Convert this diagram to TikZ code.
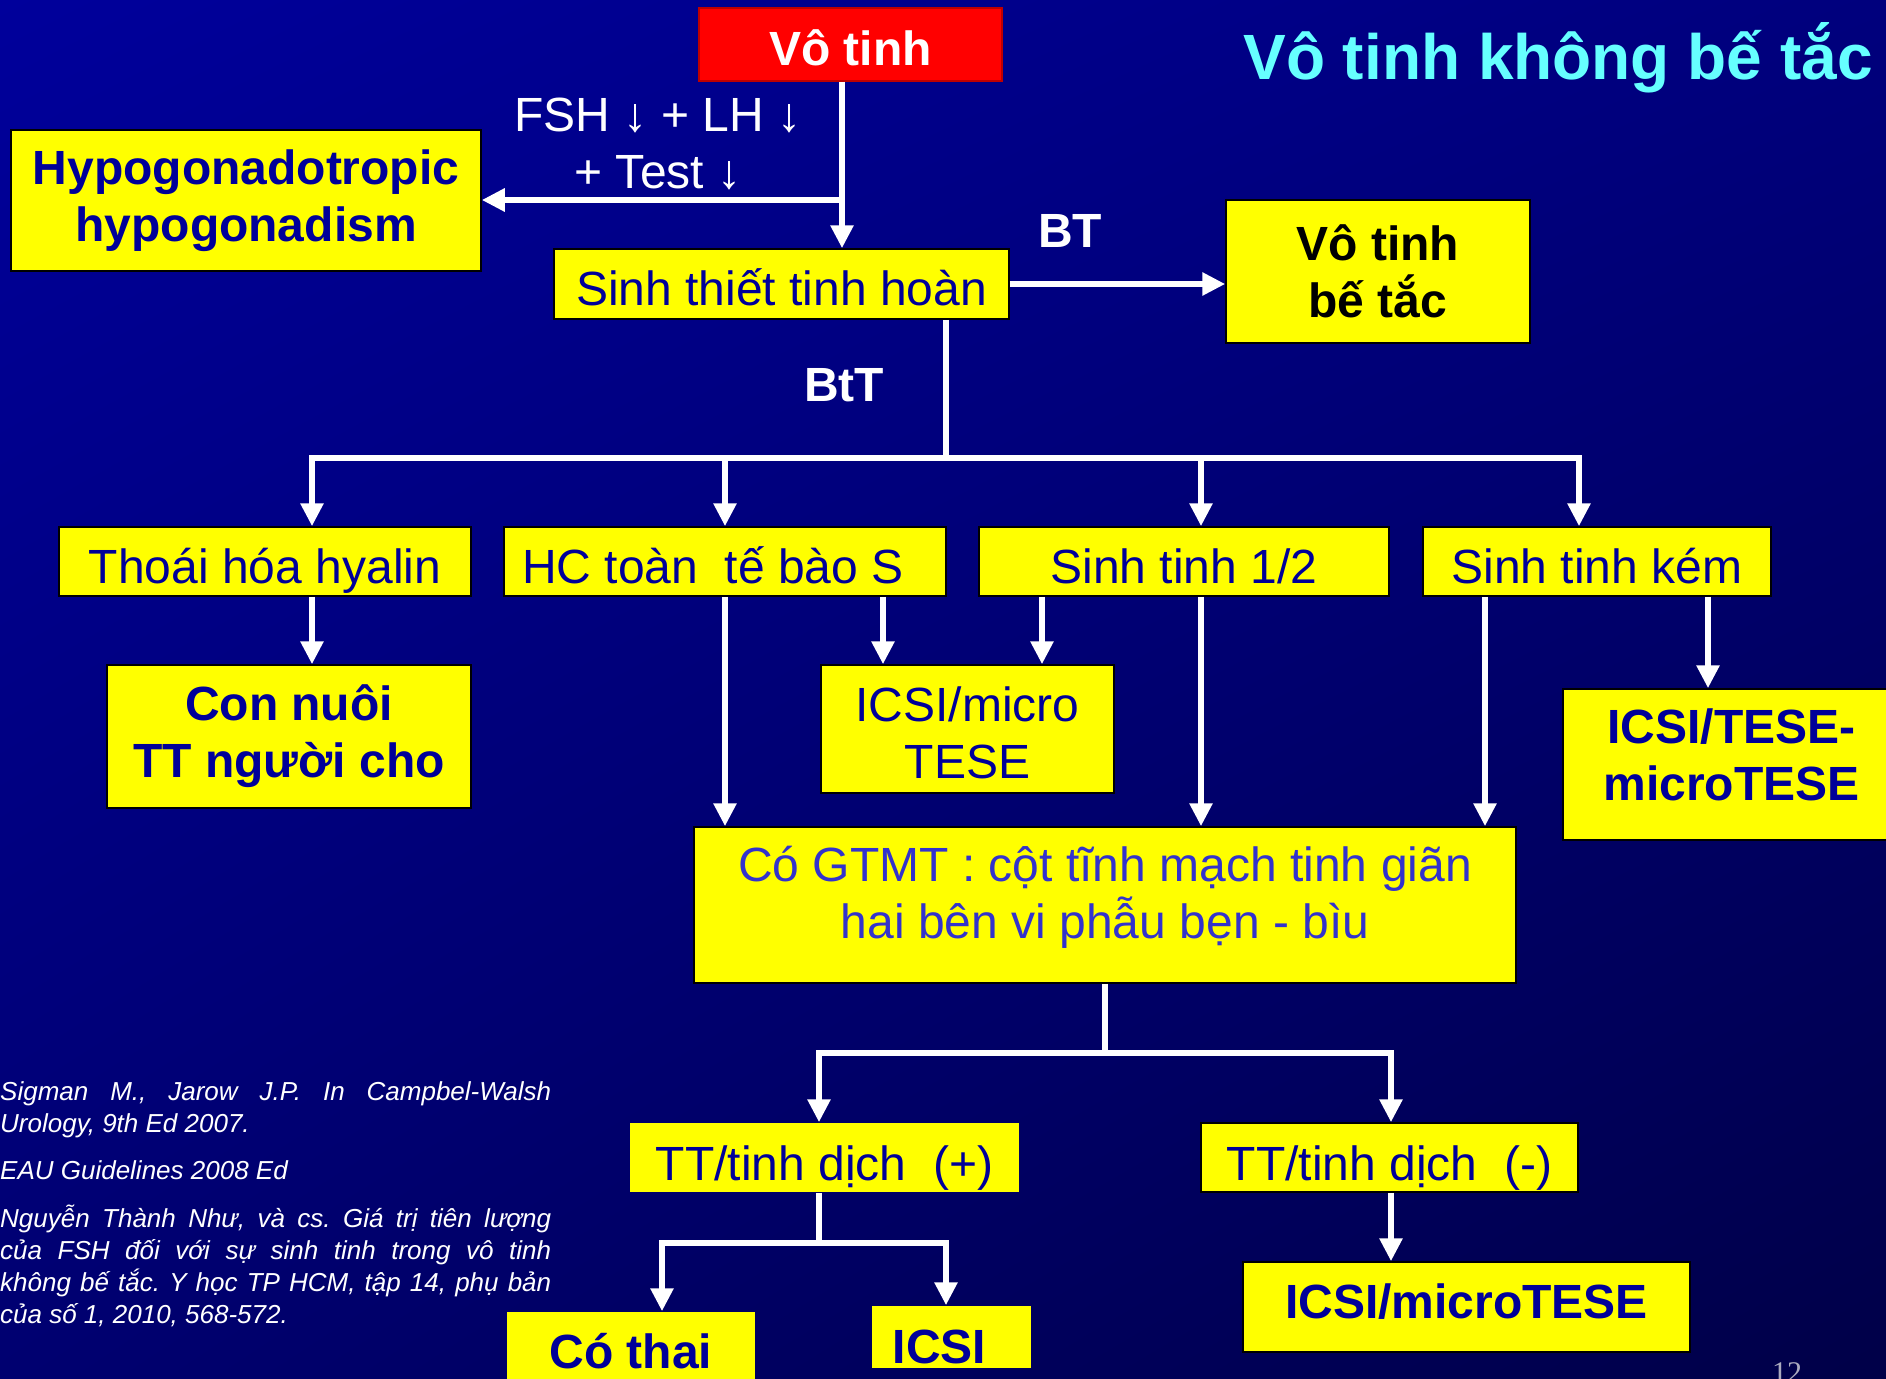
\documentclass[tikz,border=0pt]{standalone}
\usepackage{fontspec}
\setmainfont{Liberation Sans}
\newfontfamily\pagenumfont{Liberation Serif}
\usetikzlibrary{arrows.meta,shadings}
\definecolor{bgUL}{RGB}{0,0,155}
\definecolor{bgUR}{RGB}{0,0,125}
\definecolor{bgLL}{RGB}{0,0,112}
\definecolor{bgLR}{RGB}{0,0,72}
\definecolor{boxyellow}{RGB}{255,255,0}
\definecolor{boxtext}{RGB}{0,0,153}
\definecolor{gtmttext}{RGB}{51,51,204}
\definecolor{titlecyan}{RGB}{102,255,255}
\definecolor{pagegray}{RGB}{170,170,190}
\frenchspacing
\begin{document}
\begin{tikzpicture}[x=1pt,y=-1pt,
  wline/.style={draw=white, line width=6pt},
  arr/.style={wline, -{Triangle[length=23pt,width=22pt]}},
  box/.style={draw=black, line width=1.5pt, fill=boxyellow, inner sep=0pt, text=boxtext},
  rfont/.style={font=\fontsize{48}{57}\selectfont},
  bfont/.style={font=\fontsize{48}{57}\selectfont\bfseries},
  th/.style={text height=#1, text depth=0pt},
  lbl/.style={text=white, inner sep=0pt, font=\fontsize{48}{57}\selectfont\bfseries},
  refline/.style={text=white, inner sep=0pt, anchor=base west, font=\fontsize{26}{32}\selectfont\itshape},
]
\useasboundingbox (0,0) rectangle (1886,1378);
\clip (0,0) rectangle (1886,1378);
\shade[upper left=bgUL, upper right=bgUR, lower left=bgLL, lower right=bgLR] (0,0) rectangle (1886,1378);

% title
\node[text=titlecyan, inner sep=0pt, anchor=base east, font=\fontsize{64}{70}\selectfont\bfseries] (title) at (1873,80) {Vô tinh không bế tắc};

% boxes
\node[box, fill=red, draw=red!75!black, text=white, bfont, th=43pt, minimum width=303pt, minimum height=73pt] (vt) at (850.5,44.5) {Vô tinh};
\node[box, bfont, align=center, minimum width=470pt, minimum height=141pt] (hypo) at (246,200.5) {Hypogonadotropic\\hypogonadism};
\node[box, rfont, th=42pt, minimum width=455pt, minimum height=70pt] (sinh) at (781.5,284) {Sinh thiết tinh hoàn};
\node[box, bfont, text=black, align=center, minimum width=304pt, minimum height=143pt] (vtbt) at (1378,271.5) {Vô tinh\\bế tắc};
\node[box, rfont, th=43pt, minimum width=412pt, minimum height=69pt] (thoai) at (265,561.5) {Thoái hóa hyalin};
\node[box, rfont, th=43pt, minimum width=442pt, minimum height=69pt] (hc) at (725,561.5) {HC toàn\ \ tế bào S\rule{24pt}{0pt}};
\node[box, rfont, th=43pt, minimum width=410pt, minimum height=69pt] (s12) at (1184,561.5) {Sinh tinh 1/2};
\node[box, rfont, th=43pt, minimum width=348pt, minimum height=69pt] (kem) at (1597,561.5) {Sinh tinh kém};
\node[box, bfont, align=center, minimum width=364pt, minimum height=143pt] (connuoi) at (289,736.5) {Con nuôi\\TT người cho};
\node[box, rfont, align=center, minimum width=293pt, minimum height=128pt] (icsim) at (967.5,729) {\rule{0pt}{42pt}ICSI/micro\\TESE};
\node[box, bfont, align=center, minimum width=337pt, minimum height=151pt] (icsitese) at (1731.5,764.5) {ICSI/TESE-\\microTESE\rule[-19pt]{0pt}{19pt}};
\node[box, rfont, text=gtmttext, align=center, minimum width=822pt, minimum height=156pt] (gtmt) at (1105,905) {Có GTMT : cột tĩnh mạch tinh giãn\\hai bên vi phẫu bẹn - bìu\rule[-25pt]{0pt}{25pt}};
\node[box, draw=none, rfont, th=45pt, minimum width=389pt, minimum height=69pt] (ttp) at (824.5,1157.5) {TT/tinh dịch\ \ (+)};
\node[box, rfont, th=45pt, minimum width=377pt, minimum height=69pt] (ttm) at (1389.5,1157.5) {TT/tinh dịch\ \ (-)};
\node[box, draw=none, bfont, text height=20pt, text depth=20pt, minimum width=248pt, minimum height=112pt] (cothai) at (631,1368) {Có thai};
\node[box, draw=none, bfont, th=52pt, minimum width=159pt, minimum height=62pt] (icsi) at (951.5,1337) {ICSI\rule{24pt}{0pt}};
\node[box, bfont, th=22pt, minimum width=447pt, minimum height=90pt] (icsimt) at (1466.5,1307) {ICSI/microTESE};

% labels
\node[text=white, inner sep=0pt, rfont, align=center] (hormone) at (658,144) {FSH ↓ + LH ↓\\+ Test ↓};
\node[lbl, anchor=base] (btlbl) at (1070,247) {BT};
\node[lbl, anchor=base] (bttlbl) at (844,401) {BtT};

% references
\node[refline] (r1) at (0,1100) {\makebox[551pt][s]{Sigman M., Jarow J.P. In Campbel-Walsh}};
\node[refline] (r2) at (0,1132) {Urology, 9th Ed 2007.};
\node[refline] (r3) at (0,1179) {EAU Guidelines 2008 Ed};
\node[refline] (r4) at (0,1227) {\makebox[551pt][s]{Nguyễn Thành Như, và cs. Giá trị tiên lượng}};
\node[refline] (r5) at (0,1259) {\makebox[551pt][s]{của FSH đối với sự sinh tinh trong vô tinh}};
\node[refline] (r6) at (0,1291) {\makebox[551pt][s]{không bế tắc. Y học TP HCM, tập 14, phụ bản}};
\node[refline] (r7) at (0,1323) {của số 1, 2010, 568-572.};

% page number
\node[text=pagegray, inner sep=0pt, anchor=base west, font=\pagenumfont\fontsize{30}{30}\selectfont] (pnum) at (1772,1382) {12};

% connector coordinates
\coordinate (cA) at (842,200);
\coordinate (jB) at (946,458);
\coordinate (xT) at (312,0);
\coordinate (xH) at (725,0);
\coordinate (xS) at (1201,0);
\coordinate (xK) at (1579,0);
\coordinate (xHI) at (883,0);
\coordinate (xSI) at (1042,0);
\coordinate (xKG) at (1485,0);
\coordinate (xKT) at (1708,0);
\coordinate (jC) at (1105,1053);
\coordinate (xP) at (819,0);
\coordinate (xM) at (1391,0);
\coordinate (jD) at (819,1243);
\coordinate (xCT) at (662,0);
\coordinate (xIC) at (946,0);

% connectors
\draw[arr] (vt.south -| cA) -- (sinh.north -| cA);
\draw[arr] (cA) -- (cA -| hypo.east);
\draw[arr] (sinh.east) -- (sinh.east -| vtbt.west);
\draw[wline] (sinh.south -| jB) -- (jB);
\draw[arr] (jB) -| (thoai.north -| xT);
\draw[arr] (jB) -| (kem.north -| xK);
\draw[arr] (jB -| xH) -- (hc.north -| xH);
\draw[arr] (jB -| xS) -- (s12.north -| xS);
\draw[arr] (thoai.south -| xT) -- (connuoi.north -| xT);
\draw[arr] (hc.south -| xH) -- (gtmt.north -| xH);
\draw[arr] (hc.south -| xHI) -- (icsim.north -| xHI);
\draw[arr] (s12.south -| xSI) -- (icsim.north -| xSI);
\draw[arr] (s12.south -| xS) -- (gtmt.north -| xS);
\draw[arr] (kem.south -| xKG) -- (gtmt.north -| xKG);
\draw[arr] (kem.south -| xKT) -- (icsitese.north -| xKT);
\draw[wline] (gtmt.south) -- (jC);
\draw[arr] (jC) -| (ttp.north -| xP);
\draw[arr] (jC) -| (ttm.north -| xM);
\draw[wline] (ttp.south -| jD) -- (jD);
\draw[arr] (jD) -| (cothai.north -| xCT);
\draw[arr] (jD) -| (icsi.north -| xIC);
\draw[arr] (ttm.south -| xM) -- (icsimt.north -| xM);
\end{tikzpicture}
\end{document}
